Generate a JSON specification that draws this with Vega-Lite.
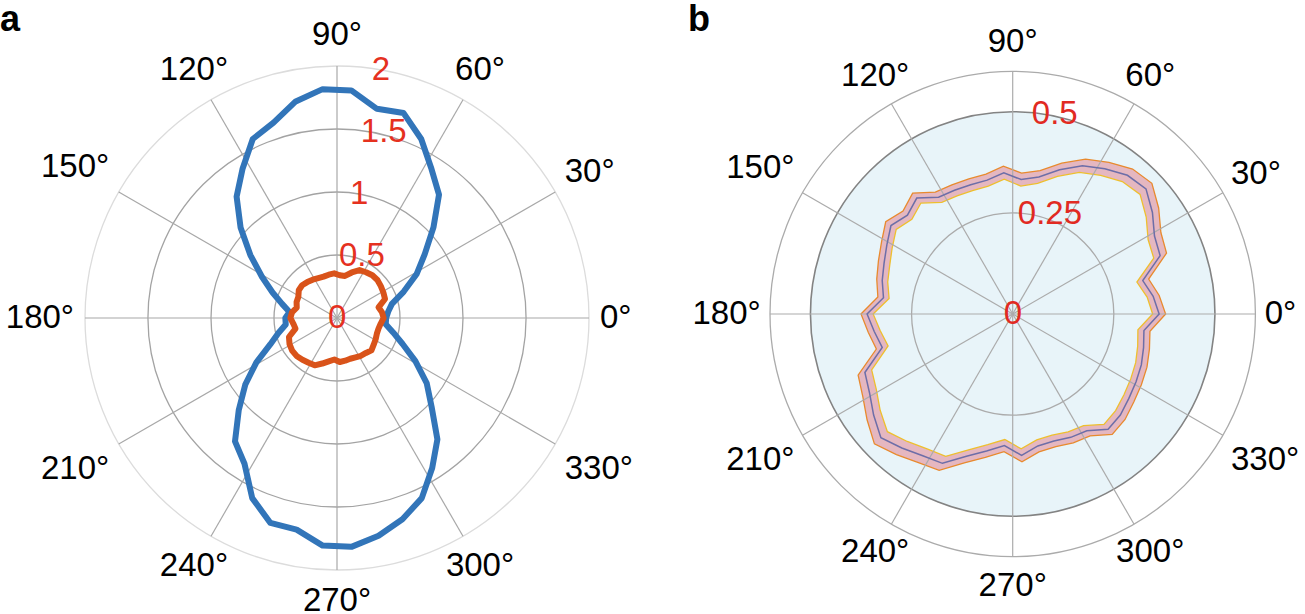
{
  "$schema": "https://vega.github.io/schema/vega-lite/v6.json",
  "padding": 0,
  "spacing": 0,
  "bounds": "flush",
  "config": {"view": {"stroke": null}, "text": {"font": "Liberation Sans"}},
  "datasets": {
    "spokes": [{"a":0},{"a":30},{"a":60},{"a":90},{"a":120},{"a":150},{"a":180},{"a":210},{"a":240},{"a":270},{"a":300},{"a":330}],
    "angleLabels": [{"a":0,"label":"0°"},{"a":30,"label":"30°"},{"a":60,"label":"60°"},{"a":90,"label":"90°"},{"a":120,"label":"120°"},{"a":150,"label":"150°"},{"a":180,"label":"180°"},{"a":210,"label":"210°"},{"a":240,"label":"240°"},{"a":270,"label":"270°"},{"a":300,"label":"300°"},{"a":330,"label":"330°"}],
    "ringsA": [{"r":0.5},{"r":1},{"r":1.5},{"r":2}],
    "rLabelsA": [{"r":0,"label":"0"},{"r":0.5,"label":"0.5"},{"r":1,"label":"1"},{"r":1.5,"label":"1.5"},{"r":2,"label":"2"}],
    "ringsB": [{"r":0.25},{"r":0.6}],
    "diskB": [{"r":0.5}],
    "rLabelsB": [{"r":0,"label":"0"},{"r":0.25,"label":"0.25"},{"r":0.5,"label":"0.5"}],
    "blueA": [
      {"a":0,"r":0.39},{"a":7.2,"r":0.41},{"a":14.4,"r":0.45},{"a":21.6,"r":0.57},{"a":28.8,"r":0.72},{"a":36,"r":0.86},{"a":43.2,"r":1.05},{"a":50.4,"r":1.27},{"a":57.6,"r":1.40},{"a":64.8,"r":1.57},
      {"a":72,"r":1.71},{"a":79.2,"r":1.69},{"a":86.4,"r":1.81},{"a":93.6,"r":1.82},{"a":100.8,"r":1.75},{"a":108,"r":1.63},{"a":115.2,"r":1.57},{"a":122.4,"r":1.40},{"a":129.6,"r":1.25},{"a":136.8,"r":1.05},
      {"a":144,"r":0.85},{"a":151.2,"r":0.68},{"a":158.4,"r":0.55},{"a":165.6,"r":0.45},{"a":172.8,"r":0.38},{"a":180,"r":0.41},{"a":187.2,"r":0.41},{"a":194.4,"r":0.48},{"a":201.6,"r":0.57},{"a":208.8,"r":0.73},
      {"a":216,"r":0.90},{"a":223.2,"r":1.07},{"a":230.4,"r":1.27},{"a":237.6,"r":1.37},{"a":244.8,"r":1.58},{"a":252,"r":1.71},{"a":259.2,"r":1.71},{"a":266.4,"r":1.81},{"a":273.6,"r":1.82},{"a":280.8,"r":1.76},
      {"a":288,"r":1.68},{"a":295.2,"r":1.58},{"a":302.4,"r":1.41},{"a":309.6,"r":1.25},{"a":316.8,"r":1.03},{"a":324,"r":0.88},{"a":331.2,"r":0.71},{"a":338.4,"r":0.56},{"a":345.6,"r":0.46},{"a":352.8,"r":0.39}
    ],
    "orangeA": [
      {"a":0,"r":0.37},{"a":7.2,"r":0.36},{"a":14.4,"r":0.34},{"a":21.6,"r":0.41},{"a":28.8,"r":0.42},{"a":36,"r":0.43},{"a":43.2,"r":0.44},{"a":50.4,"r":0.44},{"a":57.6,"r":0.43},{"a":64.8,"r":0.42},
      {"a":72,"r":0.38},{"a":79.2,"r":0.34},{"a":86.4,"r":0.34},{"a":93.6,"r":0.355},{"a":100.8,"r":0.35},{"a":108,"r":0.345},{"a":115.2,"r":0.35},{"a":122.4,"r":0.36},{"a":129.6,"r":0.37},{"a":136.8,"r":0.38},
      {"a":144,"r":0.375},{"a":151.2,"r":0.35},{"a":158.4,"r":0.345},{"a":165.6,"r":0.33},{"a":172.8,"r":0.36},{"a":180,"r":0.37},{"a":187.2,"r":0.35},{"a":194.4,"r":0.34},{"a":201.6,"r":0.41},{"a":208.8,"r":0.43},
      {"a":216,"r":0.44},{"a":223.2,"r":0.44},{"a":230.4,"r":0.43},{"a":237.6,"r":0.42},{"a":244.8,"r":0.415},{"a":252,"r":0.38},{"a":259.2,"r":0.35},{"a":266.4,"r":0.33},{"a":273.6,"r":0.35},{"a":280.8,"r":0.345},
      {"a":288,"r":0.34},{"a":295.2,"r":0.345},{"a":302.4,"r":0.355},{"a":309.6,"r":0.36},{"a":316.8,"r":0.375},{"a":324,"r":0.36},{"a":331.2,"r":0.35},{"a":338.4,"r":0.34},{"a":345.6,"r":0.34},{"a":352.8,"r":0.35}
    ],
    "bandB": [
      {"a":0,"r":0.362,"lo":0.346,"hi":0.378},{"a":7.2,"r":0.350,"lo":0.335,"hi":0.365},{"a":14.4,"r":0.332,"lo":0.317,"hi":0.347},{"a":21.6,"r":0.392,"lo":0.375,"hi":0.409},{"a":28.8,"r":0.400,"lo":0.382,"hi":0.418},
      {"a":36,"r":0.427,"lo":0.408,"hi":0.446},{"a":43.2,"r":0.452,"lo":0.432,"hi":0.472},{"a":50.4,"r":0.445,"lo":0.425,"hi":0.465},{"a":57.6,"r":0.425,"lo":0.406,"hi":0.444},{"a":64.8,"r":0.405,"lo":0.387,"hi":0.423},
      {"a":72,"r":0.375,"lo":0.358,"hi":0.392},{"a":79.2,"r":0.345,"lo":0.329,"hi":0.361},{"a":86.4,"r":0.333,"lo":0.317,"hi":0.349},{"a":93.6,"r":0.350,"lo":0.334,"hi":0.366},{"a":100.8,"r":0.337,"lo":0.322,"hi":0.352},
      {"a":108,"r":0.336,"lo":0.321,"hi":0.351},{"a":115.2,"r":0.338,"lo":0.323,"hi":0.353},{"a":122.4,"r":0.342,"lo":0.327,"hi":0.357},{"a":129.6,"r":0.372,"lo":0.356,"hi":0.388},{"a":136.8,"r":0.357,"lo":0.342,"hi":0.372},
      {"a":144,"r":0.372,"lo":0.356,"hi":0.388},{"a":151.2,"r":0.355,"lo":0.340,"hi":0.370},{"a":158.4,"r":0.342,"lo":0.327,"hi":0.357},{"a":165.6,"r":0.333,"lo":0.319,"hi":0.347},{"a":172.8,"r":0.322,"lo":0.308,"hi":0.336},
      {"a":180,"r":0.360,"lo":0.345,"hi":0.375},{"a":187.2,"r":0.345,"lo":0.330,"hi":0.360},{"a":194.4,"r":0.333,"lo":0.318,"hi":0.348},{"a":201.6,"r":0.393,"lo":0.375,"hi":0.411},{"a":208.8,"r":0.404,"lo":0.385,"hi":0.423},
      {"a":216,"r":0.425,"lo":0.405,"hi":0.445},{"a":223.2,"r":0.447,"lo":0.425,"hi":0.469},{"a":230.4,"r":0.430,"lo":0.409,"hi":0.451},{"a":237.6,"r":0.415,"lo":0.395,"hi":0.435},{"a":244.8,"r":0.408,"lo":0.389,"hi":0.427},
      {"a":252,"r":0.370,"lo":0.353,"hi":0.387},{"a":259.2,"r":0.345,"lo":0.329,"hi":0.361},{"a":266.4,"r":0.326,"lo":0.311,"hi":0.341},{"a":273.6,"r":0.350,"lo":0.334,"hi":0.366},{"a":280.8,"r":0.332,"lo":0.317,"hi":0.347},
      {"a":288,"r":0.330,"lo":0.315,"hi":0.345},{"a":295.2,"r":0.337,"lo":0.322,"hi":0.352},{"a":302.4,"r":0.342,"lo":0.327,"hi":0.357},{"a":309.6,"r":0.370,"lo":0.354,"hi":0.386},{"a":316.8,"r":0.365,"lo":0.349,"hi":0.381},
      {"a":324,"r":0.355,"lo":0.340,"hi":0.370},{"a":331.2,"r":0.348,"lo":0.333,"hi":0.363},{"a":338.4,"r":0.342,"lo":0.327,"hi":0.357},{"a":345.6,"r":0.334,"lo":0.319,"hi":0.349},{"a":352.8,"r":0.327,"lo":0.312,"hi":0.342}
    ]
  },
  "hconcat": [
    {
      "width": 674,
      "height": 614,
      "title": {"text": "a", "anchor": "start", "frame": "group", "orient": "top", "offset": -39, "baseline": "top", "fontSize": 36, "fontWeight": "bold", "font": "Liberation Sans", "color": "#000000"},
      "encoding": {
        "x": {"field": "x", "type": "quantitative", "scale": {"domain": [-2.6746, 2.6746], "nice": false, "zero": false}, "axis": null},
        "y": {"field": "y", "type": "quantitative", "scale": {"domain": [-2.3492, 2.5238], "nice": false, "zero": false}, "axis": null}
      },
      "layer": [
        {
          "data": {"name": "ringsA"},
          "transform": [{"calculate": "0", "as": "x"}, {"calculate": "0", "as": "y"}],
          "mark": {"type": "arc", "theta": 0, "theta2": 6.2832, "radius": {"expr": "datum.r*126"}, "filled": false, "strokeWidth": 1.3},
          "encoding": {
            "stroke": {"condition": {"test": "datum.r == 2", "value": "#dcdcdc"}, "value": "#a3a3a3"}
          }
        },
        {
          "data": {"name": "spokes"},
          "transform": [{"calculate": "0", "as": "x"}, {"calculate": "0", "as": "y"}, {"calculate": "2*cos(datum.a*PI/180)", "as": "sx"}, {"calculate": "2*sin(datum.a*PI/180)", "as": "sy"}],
          "mark": {"type": "rule", "stroke": "#a8a8a8", "strokeWidth": 1.2},
          "encoding": {"x2": {"field": "sx"}, "y2": {"field": "sy"}}
        },
        {
          "data": {"name": "blueA"},
          "transform": [{"calculate": "datum.r*cos(datum.a*PI/180)", "as": "x"}, {"calculate": "datum.r*sin(datum.a*PI/180)", "as": "y"}],
          "mark": {"type": "line", "interpolate": "linear-closed", "stroke": "#3275b9", "strokeWidth": 6, "strokeJoin": "round"},
          "encoding": {"order": {"field": "a", "type": "quantitative"}}
        },
        {
          "data": {"name": "orangeA"},
          "transform": [{"calculate": "datum.r*cos(datum.a*PI/180)", "as": "x"}, {"calculate": "datum.r*sin(datum.a*PI/180)", "as": "y"}],
          "mark": {"type": "line", "interpolate": "linear-closed", "stroke": "#d9531a", "strokeWidth": 6, "strokeJoin": "round"},
          "encoding": {"order": {"field": "a", "type": "quantitative"}}
        },
        {
          "data": {"name": "angleLabels"},
          "transform": [
            {"calculate": "2.087*cos(datum.a*PI/180)", "as": "x"},
            {"calculate": "2.087*sin(datum.a*PI/180)", "as": "y"},
            {"calculate": "16.5*(0.556*(length(datum.label)-1)+0.4)", "as": "hw"},
            {"calculate": "min(abs(cos(datum.a*PI/180)) > 0.001 ? datum.hw/abs(cos(datum.a*PI/180)) : 999, abs(sin(datum.a*PI/180)) > 0.001 ? 20/abs(sin(datum.a*PI/180)) : 999)", "as": "d"},
            {"calculate": "datum.d*cos(datum.a*PI/180)", "as": "ox"},
            {"calculate": "-datum.d*sin(datum.a*PI/180)", "as": "oy"}
          ],
          "mark": {"type": "text", "fontSize": 33, "font": "Liberation Sans", "color": "#000000", "align": "center", "baseline": "middle",
                   "dx": {"expr": "datum.ox"}, "dy": {"expr": "datum.oy"}},
          "encoding": {"text": {"field": "label"}}
        },
        {
          "data": {"name": "rLabelsA"},
          "transform": [{"calculate": "datum.r*cos(80*PI/180)", "as": "x"}, {"calculate": "datum.r*sin(80*PI/180)", "as": "y"}],
          "mark": {"type": "text", "fontSize": 33, "font": "Liberation Sans", "color": "#e5311f", "align": "left", "baseline": "middle", "dx": -9},
          "encoding": {"text": {"field": "label"}}
        }
      ]
    },
    {
      "width": 631,
      "height": 614,
      "title": {"text": "b", "anchor": "start", "frame": "group", "orient": "top", "offset": -39, "baseline": "top", "fontSize": 36, "fontWeight": "bold", "font": "Liberation Sans", "color": "#000000", "dx": 14},
      "encoding": {
        "x": {"field": "x", "type": "quantitative", "scale": {"domain": [-0.83733, 0.72262], "nice": false, "zero": false}, "axis": null},
        "y": {"field": "y", "type": "quantitative", "scale": {"domain": [-0.74166, 0.77627], "nice": false, "zero": false}, "axis": null}
      },
      "layer": [
        {
          "data": {"name": "diskB"},
          "transform": [{"calculate": "0", "as": "x"}, {"calculate": "0", "as": "y"}],
          "mark": {"type": "arc", "theta": 0, "theta2": 6.2832, "radius": {"expr": "datum.r*404.5"}, "fill": "#e8f4f9", "stroke": "#838383", "strokeWidth": 1.6}
        },
        {
          "data": {"name": "bandB"},
          "transform": [{"calculate": "datum.hi*cos(datum.a*PI/180)", "as": "x"}, {"calculate": "datum.hi*sin(datum.a*PI/180)", "as": "y"}],
          "mark": {"type": "line", "interpolate": "linear-closed", "fill": "#e5b7c0", "stroke": "#e88a2e", "strokeWidth": 1.3},
          "encoding": {"order": {"field": "a", "type": "quantitative"}}
        },
        {
          "data": {"name": "bandB"},
          "transform": [{"calculate": "datum.lo*cos(datum.a*PI/180)", "as": "x"}, {"calculate": "datum.lo*sin(datum.a*PI/180)", "as": "y"}],
          "mark": {"type": "line", "interpolate": "linear-closed", "fill": "#e8f4f9", "stroke": "#eebf2e", "strokeWidth": 1.3},
          "encoding": {"order": {"field": "a", "type": "quantitative"}}
        },
        {
          "data": {"name": "ringsB"},
          "transform": [{"calculate": "0", "as": "x"}, {"calculate": "0", "as": "y"}],
          "mark": {"type": "arc", "theta": 0, "theta2": 6.2832, "radius": {"expr": "datum.r*404.5"}, "filled": false, "stroke": "#ababab", "strokeWidth": 1.3}
        },
        {
          "data": {"name": "spokes"},
          "transform": [{"calculate": "0", "as": "x"}, {"calculate": "0", "as": "y"}, {"calculate": "0.6*cos(datum.a*PI/180)", "as": "sx"}, {"calculate": "0.6*sin(datum.a*PI/180)", "as": "sy"}],
          "mark": {"type": "rule", "stroke": "#ababab", "strokeWidth": 1.2},
          "encoding": {"x2": {"field": "sx"}, "y2": {"field": "sy"}}
        },
        {
          "data": {"name": "bandB"},
          "transform": [{"calculate": "datum.r*cos(datum.a*PI/180)", "as": "x"}, {"calculate": "datum.r*sin(datum.a*PI/180)", "as": "y"}],
          "mark": {"type": "line", "interpolate": "linear-closed", "stroke": "#6d6ea8", "strokeWidth": 1.5},
          "encoding": {"order": {"field": "a", "type": "quantitative"}}
        },
        {
          "data": {"name": "angleLabels"},
          "transform": [
            {"calculate": "0.623*cos(datum.a*PI/180)", "as": "x"},
            {"calculate": "0.623*sin(datum.a*PI/180)", "as": "y"},
            {"calculate": "16.5*(0.556*(length(datum.label)-1)+0.4)", "as": "hw"},
            {"calculate": "min(abs(cos(datum.a*PI/180)) > 0.001 ? datum.hw/abs(cos(datum.a*PI/180)) : 999, abs(sin(datum.a*PI/180)) > 0.001 ? 20/abs(sin(datum.a*PI/180)) : 999)", "as": "d"},
            {"calculate": "datum.d*cos(datum.a*PI/180)", "as": "ox"},
            {"calculate": "-datum.d*sin(datum.a*PI/180)", "as": "oy"}
          ],
          "mark": {"type": "text", "fontSize": 33, "font": "Liberation Sans", "color": "#000000", "align": "center", "baseline": "middle",
                   "dx": {"expr": "datum.ox"}, "dy": {"expr": "datum.oy"}},
          "encoding": {"text": {"field": "label"}}
        },
        {
          "data": {"name": "rLabelsB"},
          "transform": [{"calculate": "datum.r*cos(82*PI/180)", "as": "x"}, {"calculate": "datum.r*sin(82*PI/180)", "as": "y"}],
          "mark": {"type": "text", "fontSize": 33, "font": "Liberation Sans", "color": "#e12a22", "align": "left", "baseline": "middle", "dx": -9},
          "encoding": {"text": {"field": "label"}}
        }
      ]
    }
  ]
}
